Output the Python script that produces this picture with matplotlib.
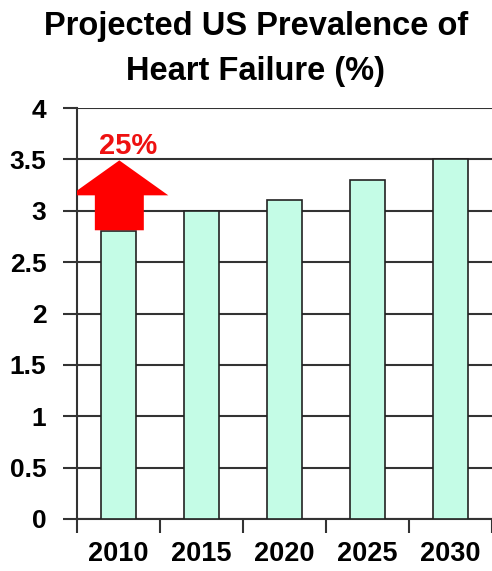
import matplotlib.pyplot as plt
from matplotlib.patches import FancyArrow

plt.rcParams['font.family'] = ['Liberation Sans', 'DejaVu Sans']

years = ['2010', '2015', '2020', '2025', '2030']
prevalence = [2.8, 3.0, 3.1, 3.3, 3.5]
yticks = [0, 0.5, 1, 1.5, 2, 2.5, 3, 3.5, 4]
ytick_labels = ['0', '0.5', '1', '1.5', '2', '2.5', '3', '3.5', '4']

fig = plt.figure(figsize=(4.92, 5.71), dpi=100)
ax = fig.add_axes([77 / 492, 1 - 519 / 571, 415 / 492, (519 - 108) / 571])

x = range(len(years))
ax.bar(x, prevalence, width=0.41, color='#C4FCE6', edgecolor='#222222',
       linewidth=1.2, zorder=3)

ax.set_ylim(0, 4)
ax.set_xlim(-0.5, len(years) - 0.5)
ax.set_yticks(yticks)
ax.set_yticklabels(ytick_labels, fontsize=19, fontweight='bold')
ax.set_xticks([i - 0.5 for i in range(len(years) + 1)])
ax.set_xticklabels([])
ax.set_xticks(list(x), minor=True)
ax.set_xticklabels(years, minor=True, fontsize=19.5, fontweight='bold')
ax.tick_params(axis='x', which='minor', length=0, pad=16)
ax.tick_params(axis='x', which='major', length=10, width=1.5, color='#333333')
ax.tick_params(axis='y', length=10, width=1.5, color='#333333', pad=12)
ax.yaxis.grid(True, color='#333333', linewidth=1.5, zorder=0)
ax.set_axisbelow(True)
for side in ['top', 'right']:
    ax.spines[side].set_visible(False)
ax.spines['left'].set_linewidth(1.5)
ax.spines['left'].set_color('#333333')
ax.spines['bottom'].set_linewidth(1.5)
ax.spines['bottom'].set_color('#333333')

arrow = FancyArrow(0.01, 2.81, 0, 0.68, width=0.59, head_width=1.18,
                   head_length=0.34, length_includes_head=True,
                   color='#FF0000', linewidth=0, zorder=4)
ax.add_patch(arrow)
ax.text(0.11, 3.63, '25%', color='#EE1111', fontsize=21, fontweight='bold',
        ha='center', va='center', zorder=5)

fig.suptitle('Projected US Prevalence of\nHeart Failure (%)', fontsize=23.5,
             fontweight='bold', x=0.52, y=0.98, linespacing=1.55)

fig.savefig('out.png', dpi=100)
